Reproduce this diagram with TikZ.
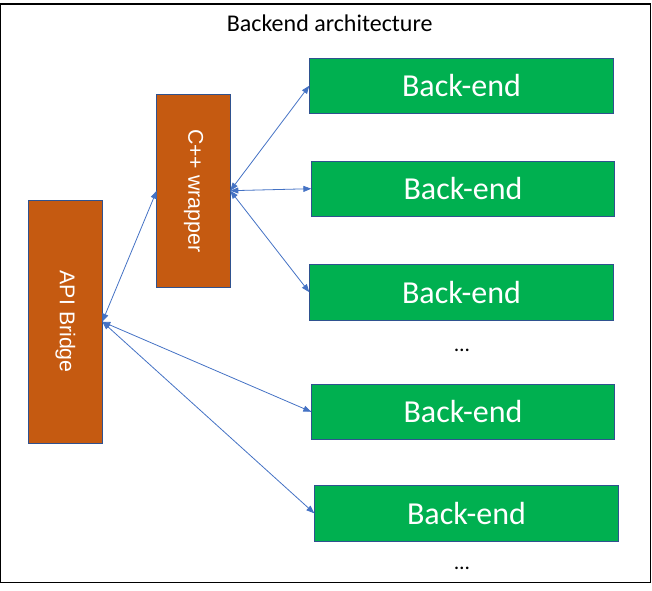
\documentclass[tikz,border=0pt]{standalone}
\usepackage{fontspec}
\setmainfont{Carlito}
\newfontfamily\labelfont{Liberation Sans}
\usetikzlibrary{arrows.meta}
\definecolor{boxorange}{HTML}{C55A11}
\definecolor{boxgreen}{HTML}{00B050}
\definecolor{boxborder}{HTML}{2F528F}
\definecolor{arrowblue}{HTML}{4472C4}
\tikzset{
  basebox/.style={draw=boxborder, line width=0.75pt, inner sep=0pt, outer sep=0pt, text=white},
  orangebox/.style={basebox, fill=boxorange},
  greenbox/.style={basebox, fill=boxgreen, font=\fontsize{24}{28}\selectfont},
  vlabel/.style={rotate=-90, text=white, font=\labelfont\fontsize{16}{19}\selectfont},
  link/.style={draw=arrowblue, line width=0.6pt, {Triangle[length=6pt,width=4.5pt]}-{Triangle[length=6pt,width=4.5pt]}},
  dots/.style={font=\fontsize{16}{19}\selectfont, anchor=base},
}
\begin{document}
\begin{tikzpicture}[x=0.75pt, y=-0.75pt]
\useasboundingbox (0,0) rectangle (652,591);
\draw[line width=1.1pt, black] (0.6,4) rectangle (650.6,582.5);
\node[anchor=base, font=\fontsize{18}{21}\selectfont] (title) at (329.7,31.7) {Backend architecture};

\node[orangebox, minimum width=55.2pt, minimum height=144.5pt] (cpp) at (193.5,190.7) {};
\node[vlabel] (cpplbl) at (cpp.center) {C++ wrapper};
\node[orangebox, minimum width=55.5pt, minimum height=182.5pt] (api) at (65.3,321.7) {};
\node[vlabel] (apilbl) at (api.center) {API Bridge};

\node[greenbox, minimum width=228.3pt, minimum height=41pt] (b1) at (461.5,85.7) {Back-end};
\node[greenbox, minimum width=227.5pt, minimum height=41pt] (b2) at (463,188.7) {Back-end};
\node[greenbox, minimum width=228.3pt, minimum height=41.8pt] (b3) at (461.5,292.2) {Back-end};
\node[greenbox, minimum width=227.5pt, minimum height=41.2pt] (b4) at (463,411.8) {Back-end};
\node[greenbox, minimum width=228.3pt, minimum height=42pt] (b5) at (466.5,513.3) {Back-end};

\node[dots] (dots1) at (462,351.5) {…};
\node[dots] (dots2) at (462,569.5) {…};

\draw[link] (api.east) -- (cpp.west);
\draw[link] (api.east) -- (b4.west);
\draw[link] (api.east) -- (b5.west);
\draw[link] (cpp.east) -- (b1.west);
\draw[link] (cpp.east) -- (b2.west);
\draw[link] (cpp.east) -- (b3.west);
\end{tikzpicture}
\end{document}
